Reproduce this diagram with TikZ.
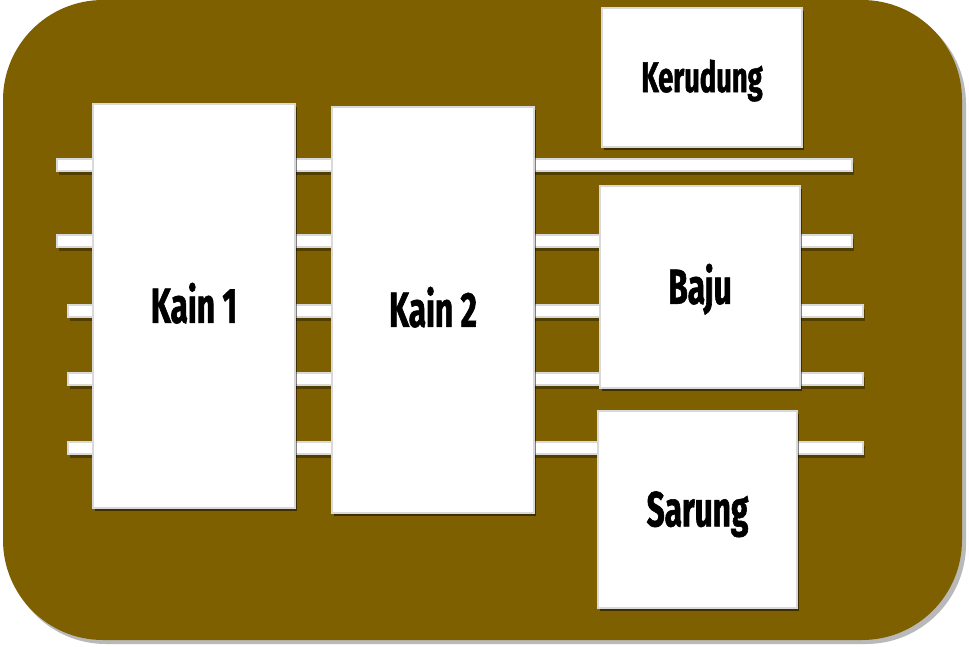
\documentclass[tikz,border=0pt]{standalone}
\usepackage{fontspec}
\setmainfont{Fira Sans}[FakeStretch=0.64, BoldFeatures={FakeBold=1.2}]
\usetikzlibrary{shadows,calc}
\definecolor{bgbrown}{HTML}{7F6000}
\definecolor{edgegray}{HTML}{D9D9D9}
\begin{document}
\begin{tikzpicture}[x=0.75pt,y=-0.75pt,
  box/.style={draw=edgegray, line width=1.2pt, fill=white, inner sep=0pt,
    drop shadow={shadow xshift=1.5pt, shadow yshift=-2.5pt, opacity=0.5, fill=black},
    font=\bfseries\fontsize{37}{42}\selectfont, text height=25.2pt, text depth=0pt},
  smallbox/.style={box, font=\bfseries\fontsize{32}{36}\selectfont, text height=21.8pt},
  barbody/.style={draw=edgegray, line width=1.1pt, fill=white},
  barshade/.style={fill=black, opacity=0.35},
]
\useasboundingbox (0,0) rectangle (969,646);
% background panel with shadow
\fill[gray!55, rounded corners=75pt] (6,4) rectangle (966,644);
\fill[bgbrown, rounded corners=75pt] (3,0) rectangle (962,640);
% bar end points
\coordinate (bl1) at (57,165);  \coordinate (br1) at (852,165);
\coordinate (bl2) at (57,241);  \coordinate (br2) at (852,241);
\coordinate (bl3) at (68,311);  \coordinate (br3) at (863,311);
\coordinate (bl4) at (68,379);  \coordinate (br4) at (863,379);
\coordinate (bl5) at (68,448);  \coordinate (br5) at (863,448);
\foreach \i in {1,...,5}{
  \fill[barshade] ($(bl\i)+(2,-2)$) rectangle ($(br\i)+(2,10)$);
  \draw[barbody] ($(bl\i)+(0,-6)$) rectangle ($(br\i)+(0,6)$);
}
% boxes
\node[box, minimum width=151.5pt, minimum height=303pt] (kain1) at (194,306) {Kain 1};
\node[box, minimum width=151.5pt, minimum height=304.5pt] (kain2) at (433,310) {Kain 2};
\node[smallbox, minimum width=150pt, minimum height=104.25pt] (kerudung) at (702,77.5) {Kerudung};
\node[box, minimum width=150pt, minimum height=151.5pt] (baju) at (700,287) {Baju};
\node[box, minimum width=149.25pt, minimum height=147.75pt] (sarung) at (697.5,509.5) {Sarung};
\end{tikzpicture}
\end{document}
